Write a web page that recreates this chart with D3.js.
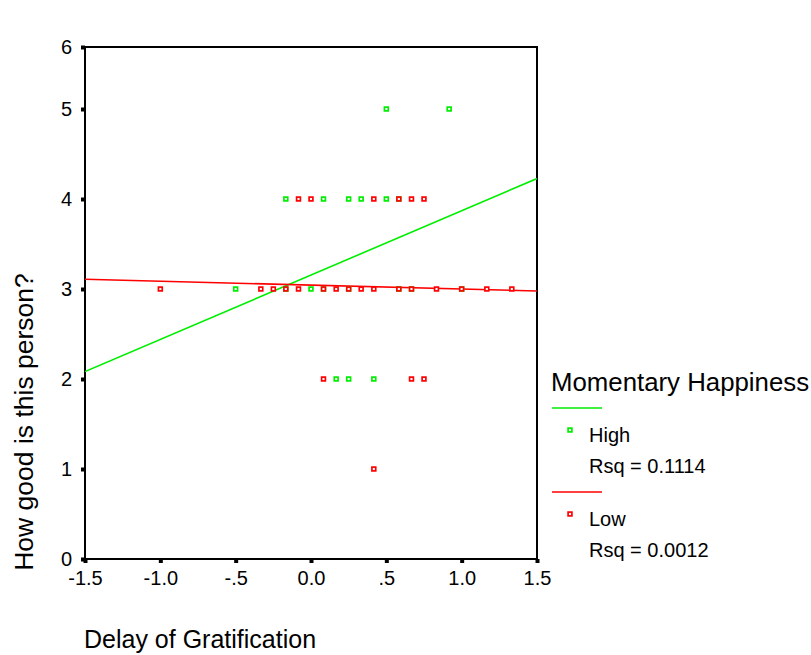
<!DOCTYPE html>
<html>
<head>
<meta charset="utf-8">
<script src="https://cdn.jsdelivr.net/npm/d3@7"></script>
<style>
  html, body { margin: 0; padding: 0; background: #fff; }
  text { font-family: "Liberation Sans", Arial, sans-serif; fill: #000; }
</style>
</head>
<body>
<svg id="chart" width="811" height="655"></svg>
<script>
// ---- data ----
const xTicks = [-1.5, -1.0, -0.5, 0.0, 0.5, 1.0, 1.5];
const xTickLabels = ["-1.5", "-1.0", "-.5", "0.0", ".5", "1.0", "1.5"];
const yTicks = [0, 1, 2, 3, 4, 5, 6];
const yTickLabels = ["0", "1", "2", "3", "4", "5", "6"];

const highX = [0.5, 0.917,
  -0.167, 0.083, 0.25, 0.333, 0.5, 0.583,
  -0.5, -0.167, 0.0, 0.083, 0.25, 0.583, 0.667, 1.0,
  0.167, 0.25, 0.417];
const highY = [5, 5,
  4, 4, 4, 4, 4, 4,
  3, 3, 3, 3, 3, 3, 3, 3,
  2, 2, 2];

const lowX = [-0.083, 0.0, 0.417, 0.583, 0.667, 0.75,
  -1.0, -0.333, -0.25, -0.167, -0.083, 0.083, 0.167, 0.25, 0.333, 0.417, 0.583, 0.667, 0.833, 1.0, 1.167, 1.333,
  0.083, 0.667, 0.75,
  0.417];
const lowY = [4, 4, 4, 4, 4, 4,
  3, 3, 3, 3, 3, 3, 3, 3, 3, 3, 3, 3, 3, 3, 3, 3,
  2, 2, 2,
  1];

const seriesNames = ["High", "Low"];
const fitIntercept = [3.155, 3.043];
const fitSlope = [0.715, -0.0433];
const rsqLabels = ["Rsq = 0.1114", "Rsq = 0.0012"];
const seriesColors = ["#00ee00", "#ff0000"];

// ---- chart ----
(function () {
const svg = d3.select("#chart");
svg.append("rect").attr("width", 811).attr("height", 655).attr("fill", "#fff");

const pL = 85, pR = 537, pB = 559, pT = 47;
const x = d3.scaleLinear().domain([-1.5, 1.5]).range([pL, pR]);
const y = d3.scaleLinear().domain([0, 5, 6]).range([pB, 109, pT]);

// frame
svg.append("rect")
  .attr("x", pL).attr("y", pT)
  .attr("width", pR - pL).attr("height", pB - pT)
  .attr("fill", "none").attr("stroke", "#000").attr("stroke-width", 2);

// axes
const yAxis = d3.axisLeft(y).tickValues(yTicks)
  .tickFormat((d, i) => yTickLabels[i]).tickSize(4).tickPadding(9);
const gy = svg.append("g").attr("transform", `translate(${pL},0)`).call(yAxis);
gy.select(".domain").remove();
gy.selectAll(".tick line").attr("stroke", "#000").attr("stroke-width", 4);
gy.selectAll(".tick text").attr("font-size", 20)
  .attr("font-family", "'Liberation Sans', Arial, sans-serif");

const xAxis = d3.axisBottom(x).tickValues(xTicks)
  .tickFormat((d, i) => xTickLabels[i]).tickSize(4).tickPadding(8);
const gx = svg.append("g").attr("transform", `translate(0,${pB})`).call(xAxis);
gx.select(".domain").remove();
gx.selectAll(".tick line").attr("stroke", "#000").attr("stroke-width", 4);
gx.selectAll(".tick text").attr("font-size", 20)
  .attr("font-family", "'Liberation Sans', Arial, sans-serif");

// clip
svg.append("clipPath").attr("id", "clip").append("rect")
  .attr("x", pL).attr("y", pT).attr("width", pR - pL).attr("height", pB - pT);

// fit lines
const line = d3.line().x(d => x(d[0])).y(d => y(d[1]));
[0, 1].forEach(i => {
  const pts = [-1.5, 1.5].map(v => [v, fitIntercept[i] + fitSlope[i] * v]);
  svg.append("path").attr("d", line(pts))
    .attr("fill", "none").attr("stroke", seriesColors[i]).attr("stroke-width", 1.6)
    .attr("clip-path", "url(#clip)");
});

// points
const s = 3.8;
function drawPoints(xs, ys, color) {
  svg.append("g").selectAll("rect").data(xs.map((v, i) => [v, ys[i]])).join("rect")
    .attr("x", d => x(d[0]) - s / 2).attr("y", d => y(d[1]) - s / 2)
    .attr("width", s).attr("height", s)
    .attr("fill", "#fff").attr("stroke", color).attr("stroke-width", 1.7);
}
drawPoints(highX, highY, seriesColors[0]);
drawPoints(lowX, lowY, seriesColors[1]);

// axis titles
svg.append("text").attr("x", 84).attr("y", 648).attr("font-size", 25)
  .text("Delay of Gratification");
svg.append("text").attr("transform", "translate(33,422) rotate(-90)")
  .attr("text-anchor", "middle").attr("font-size", 26.5)
  .text("How good is this  person?");

// legend
svg.append("text").attr("x", 551).attr("y", 391).attr("font-size", 25.8)
  .text("Momentary Happiness");
const legY = [408, 492];
[0, 1].forEach(i => {
  const base = legY[i];
  svg.append("line").attr("x1", 552).attr("x2", 602).attr("y1", base).attr("y2", base)
    .attr("stroke", seriesColors[i]).attr("stroke-width", 1.6);
  svg.append("rect").attr("x", 570 - s / 2).attr("y", base + 22 - s / 2)
    .attr("width", s).attr("height", s)
    .attr("fill", "#fff").attr("stroke", seriesColors[i]).attr("stroke-width", 1.7);
  svg.append("text").attr("x", 589).attr("y", base + 34).attr("font-size", 20)
    .text(seriesNames[i]);
  svg.append("text").attr("x", 589).attr("y", base + 65).attr("font-size", 20)
    .text(rsqLabels[i]);
});
})();
</script>
</body>
</html>
